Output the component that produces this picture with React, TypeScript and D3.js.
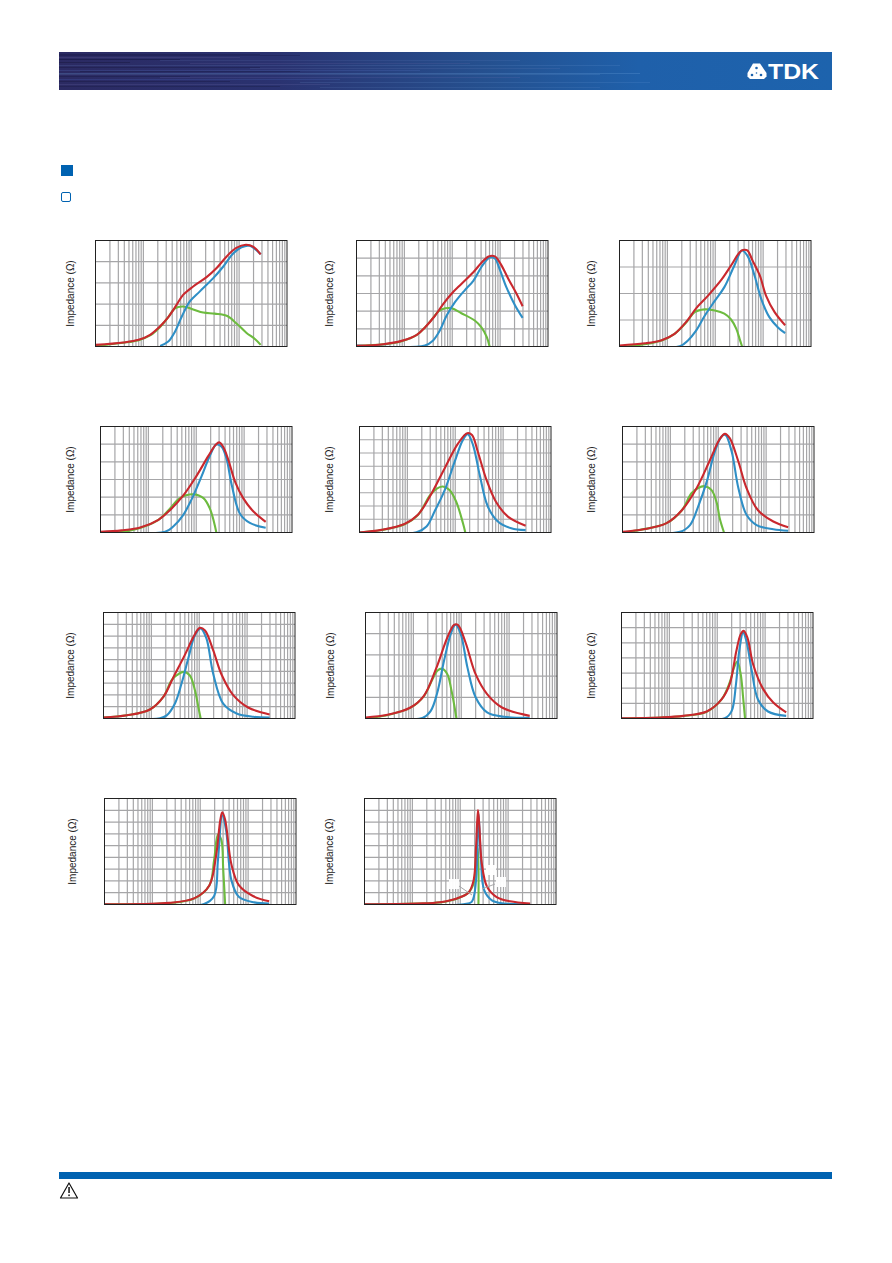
import React from "react";
import * as d3 from "d3";

type Pt = [number, number];

// Each curve: [log10(frequency / 1 MHz), impedance as % of the chart's full scale]
const redA: Pt[] = [[0,1.5],[.58,3.8],[.9,6.3],[1.14,11],[1.35,19],[1.52,27.7],[1.69,39],[1.83,48.7],[2.04,56.6],[2.32,65.4],[2.53,74],[2.74,85],[2.94,93],[3.14,96],[3.29,94.3],[3.45,87]];
const blueA: Pt[] = [[1.35,.6],[1.52,4.7],[1.66,14],[1.8,28],[1.97,42.5],[2.18,52],[2.46,64.5],[2.67,75.5],[2.88,88],[3.05,93.7],[3.22,95],[3.45,87]];
const greenA: Pt[] = [[0,.5],[.58,3.5],[.9,6],[1.14,10.5],[1.35,18.5],[1.52,27.7],[1.66,36],[1.83,37.7],[2.04,35],[2.25,32],[2.49,31],[2.74,29],[2.94,22],[3.15,13],[3.33,7],[3.45,1.5]];

const redB: Pt[] = [[0,.6],[.56,2.2],[.94,5.3],[1.26,11],[1.43,18],[1.64,29],[1.81,40],[1.99,50],[2.19,59],[2.44,70],[2.61,79],[2.76,85],[2.89,85],[3.01,78],[3.17,64],[3.34,50],[3.47,38]];
const blueB: Pt[] = [[0,1],[1.43,1],[1.6,5.7],[1.74,15],[1.88,29],[2.06,42],[2.26,53],[2.44,62],[2.61,75],[2.78,84],[2.89,83],[2.99,73],[3.13,56],[3.31,39],[3.47,27]];
const greenB: Pt[] = [[0,.6],[.56,2],[.94,5],[1.26,11],[1.43,18],[1.6,27],[1.71,33],[1.85,36],[1.99,36],[2.19,31.4],[2.47,24.5],[2.61,18],[2.72,9],[2.78,0]];

const redC: Pt[] = [[0,1],[.53,3],[.88,6],[1.15,12],[1.4,23.6],[1.6,36],[1.85,48],[2.13,63],[2.33,76.4],[2.51,89],[2.58,91],[2.67,90.6],[2.78,81],[2.93,67],[3.06,48],[3.24,32.4],[3.46,20]];
const blueC: Pt[] = [[0,0],[1.26,.3],[1.43,5.7],[1.6,15],[1.78,29],[1.99,43],[2.19,56],[2.4,76.4],[2.56,90.6],[2.68,85],[2.82,67],[2.96,45],[3.13,27.7],[3.31,18],[3.46,12.6]];
const greenC: Pt[] = [[0,0],[.35,1],[.88,5.7],[1.15,12],[1.4,23],[1.57,32.4],[1.78,35],[1.99,34],[2.19,31],[2.33,25.5],[2.44,16.7],[2.51,7],[2.56,0]];

const redD: Pt[] = [[0,.6],[.44,2],[.83,4.7],[1.21,12],[1.45,21],[1.73,35],[2,53],[2.25,72],[2.41,83],[2.48,85],[2.56,81],[2.67,68.6],[2.81,48],[2.98,32.4],[3.19,20],[3.45,10]];
const blueD: Pt[] = [[0,0],[1.35,.6],[1.52,5.7],[1.73,16.7],[1.9,31],[2.11,53],[2.28,72],[2.42,83],[2.53,81],[2.63,70],[2.74,45],[2.91,18],[3.12,9],[3.45,4.4]];
const greenD: Pt[] = [[.34,0],[.69,2.5],[1.21,12],[1.42,21],[1.66,32.4],[1.94,36],[2.15,32.4],[2.28,23],[2.37,10],[2.42,0]];

const redE: Pt[] = [[0,0],[.46,2.5],[.94,8],[1.22,16.7],[1.47,34],[1.78,60.7],[2.06,84],[2.25,93.7],[2.35,92],[2.47,76.4],[2.65,50],[2.85,29],[3.1,15],[3.47,6.3]];
const blueE: Pt[] = [[0,0],[1.19,.3],[1.4,5.7],[1.57,20],[1.78,40],[1.99,67],[2.16,87.4],[2.26,92.8],[2.37,82.7],[2.51,54.4],[2.68,24.5],[2.89,10.4],[3.17,4],[3.47,2.2]];
const greenE: Pt[] = [[0,0],[.46,2.3],[.94,7.8],[1.22,16.5],[1.47,35],[1.6,41],[1.74,43.4],[1.88,40],[2.02,29],[2.16,9],[2.21,0]];

const redF: Pt[] = [[0,.6],[.44,3],[.92,8.8],[1.24,21],[1.55,42],[1.83,68.6],[2.03,88],[2.14,93],[2.24,89],[2.42,67],[2.59,42],[2.83,21],[3.15,10.4],[3.46,5]];
const blueF: Pt[] = [[0,0],[1.2,.6],[1.41,7],[1.58,24.5],[1.76,48],[1.93,76.4],[2.07,90.6],[2.15,92],[2.28,76.4],[2.42,42],[2.59,16.7],[2.8,7],[3.15,3],[3.46,1.6]];
const greenF: Pt[] = [[0,0],[.37,2.5],[.92,8.8],[1.24,21],[1.44,37],[1.58,42],[1.71,43.7],[1.86,40],[1.97,27.7],[2.03,13.5],[2.12,0]];

const redG: Pt[] = [[0,1],[.49,3],[.97,8.5],[1.25,20.4],[1.46,39],[1.7,60],[1.88,77],[2.01,85.5],[2.12,83],[2.29,64.5],[2.47,41],[2.71,22],[3.02,10.4],[3.47,3.8]];
const blueG: Pt[] = [[0,0],[1.18,.3],[1.32,3],[1.49,14],[1.63,33],[1.77,56.6],[1.91,78.6],[2.03,85],[2.15,75.5],[2.29,42.5],[2.5,14],[2.78,4.7],[3.13,1.6],[3.47,1]];
const greenG: Pt[] = [[0,1],[.49,3],[.97,8.5],[1.25,20.4],[1.42,36],[1.53,40.8],[1.67,44],[1.8,40.8],[1.91,26.7],[1.98,11],[2.03,0]];

const redH: Pt[] = [[0,1],[.46,3.5],[.94,10.4],[1.22,21.4],[1.47,46.5],[1.71,76.4],[1.85,88.4],[1.93,88.4],[2.09,71.7],[2.3,41.8],[2.54,23],[2.85,10.4],[3.43,2.5]];
const blueH: Pt[] = [[0,0],[1.19,.6],[1.36,7],[1.5,24.5],[1.64,54.4],[1.78,79.6],[1.88,88.4],[1.99,79.6],[2.13,48],[2.3,20],[2.54,5.7],[2.89,1.6],[3.43,.6]];
const greenH: Pt[] = [[0,0],[.39,2.5],[.94,10.2],[1.22,21.2],[1.4,37],[1.5,45],[1.6,47],[1.71,41.8],[1.79,27.7],[1.85,13.5],[1.9,0]];

const redI: Pt[] = [[0,.3],[.81,1],[1.29,2.5],[1.78,6.6],[2.09,18],[2.26,32.4],[2.4,64],[2.49,79.6],[2.55,82.7],[2.63,76.4],[2.75,51],[2.96,27.7],[3.17,15],[3.44,5.7]];
const blueI: Pt[] = [[0,0],[2.16,.3],[2.3,7],[2.39,32],[2.46,64],[2.54,81],[2.61,73],[2.72,45],[2.85,18],[3.06,6.6],[3.44,2.5]];
const greenI: Pt[] = [[0,0],[.81,.8],[1.29,2.3],[1.78,6.4],[2.09,18],[2.26,34],[2.35,48],[2.42,53.8],[2.49,41.8],[2.54,20],[2.58,0]];

const redJ: Pt[] = [[0,.3],[1.35,1.5],[1.88,6],[2.19,18],[2.33,46],[2.42,80],[2.46,87],[2.52,80],[2.65,38],[2.81,18],[3.1,8],[3.44,3]];
const blueJ: Pt[] = [[0,0],[2.08,.5],[2.29,8],[2.37,42],[2.46,84],[2.54,70],[2.65,23],[2.81,7],[3.13,2],[3.44,1]];
const greenJ: Pt[] = [[0,.2],[1.35,1.3],[1.88,5.8],[2.19,18],[2.29,42],[2.37,66],[2.44,61],[2.48,33],[2.52,0]];

const redK: Pt[] = [[0,.3],[1.1,1],[1.58,2.2],[1.93,5.7],[2.17,11],[2.28,23],[2.33,54],[2.37,89],[2.4,73],[2.45,38.7],[2.56,16.7],[2.76,7],[3.04,3],[3.46,1]];
const blueK: Pt[] = [[0,0],[2.07,.3],[2.24,2.5],[2.33,23],[2.38,86],[2.43,45],[2.5,13.5],[2.66,4],[2.9,1],[3.46,.3]];
const greenK: Pt[] = [[0,.2],[1.1,.8],[1.58,2],[1.93,5.5],[2.17,11],[2.28,20],[2.33,42],[2.37,53],[2.38,0]];

// Layout of the page, separate from the values
const chartLefts = [95.5, 356.5, 619.5, 100.5, 359.5, 622.5, 103.5, 365.5, 621.5, 104.5, 364.5];
const chartTops = [240.5, 240.5, 240.5, 426.5, 426.5, 426.5, 612.5, 612.5, 612.5, 798.5, 798.5];
const labelXs = [71, 330, 592, 71, 330, 592, 71, 331, 592, 73, 330];
const divisions = [5, 6, 4, 6, 8, 6, 9, 5, 7, 9, 9];
const reds = [redA, redB, redC, redD, redE, redF, redG, redH, redI, redJ, redK];
const blues = [blueA, blueB, blueC, blueD, blueE, blueF, blueG, blueH, blueI, blueJ, blueK];
const greens = [greenA, greenB, greenC, greenD, greenE, greenF, greenG, greenH, greenI, greenJ, greenK];

const CHART_W = 191.5;
const CHART_H = 106;
const GRID = "#a6a6a8";
const RED = "#c9282e";
const BLUE = "#2f8fc6";
const GREEN = "#6dbb3f";
const BRAND = "#0062b1";

const minorTicks = d3.range(0, 4).flatMap((dec) =>
  d3.range(2, 11).map((m) => m * 10 ** dec)
);

// Rows of the banner's streaks: [row, from, to, opacity, colour]
const streaks: [number, number, number, number, string][] = [
  [54, 59, 260, .2, "#000020"], [55, 59, 300, .18, "#000020"], [57, 59, 240, .16, "#8a7fb0"], [59, 59, 180, .3, "#000020"],
  [60, 160, 520, .14, "#6f8fd0"], [62, 59, 130, .32, "#10102a"], [63, 190, 470, .16, "#7a6fb0"],
  [65, 59, 620, .14, "#7fa8e0"], [67, 59, 260, .25, "#0c0c28"], [68, 250, 560, .14, "#8090c8"],
  [70, 59, 420, .2, "#5f7fd0"], [71, 80, 300, .24, "#0c0c28"], [73, 59, 640, .26, "#6fa8e0"],
  [74, 59, 600, .14, "#88b8e8"], [76, 59, 190, .26, "#101030"], [77, 160, 520, .16, "#7f78b8"],
  [79, 59, 340, .22, "#4f6fc8"], [81, 59, 230, .28, "#101030"], [82, 300, 650, .14, "#80a8e0"],
  [84, 59, 330, .18, "#7f78b8"], [86, 59, 280, .24, "#101030"], [87, 320, 600, .12, "#7fa8e0"],
];

function Chart({ index }: { index: number }) {
  const left = chartLefts[index];
  const top = chartTops[index];
  const x = d3.scaleLog().domain([1, 10000]).range([left, left + CHART_W]);
  const y = d3.scaleLinear().domain([0, 100]).range([top + CHART_H, top]);
  const line = d3
    .line<Pt>()
    .x((d) => x(10 ** d[0]))
    .y((d) => y(d[1]))
    .curve(d3.curveCatmullRom.alpha(0.5));
  const hLines = d3.range(1, divisions[index]).map((i) => (i * 100) / divisions[index]);
  const curve = { fill: "none", strokeWidth: 2.1, strokeLinejoin: "round" as const };
  const clipId = `plot-${index}`;
  return (
    <g>
      <clipPath id={clipId}>
        <rect x={left - 1} y={top} width={CHART_W + 1} height={CHART_H + 0.5} />
      </clipPath>
      {minorTicks.slice(0, -1).map((t) => (
        <line key={t} x1={x(t)} x2={x(t)} y1={top} y2={top + CHART_H} stroke={GRID} strokeWidth={1.2} />
      ))}
      {hLines.map((v) => (
        <line key={v} x1={left} x2={left + CHART_W} y1={y(v)} y2={y(v)} stroke={GRID} strokeWidth={1.2} />
      ))}
      <g clipPath={`url(#${clipId})`}>
        <path d={line(greens[index]) ?? ""} stroke={GREEN} {...curve} />
        <path d={line(blues[index]) ?? ""} stroke={BLUE} {...curve} />
        <path d={line(reds[index]) ?? ""} stroke={RED} {...curve} />
      </g>
      <rect x={left} y={top} width={CHART_W} height={CHART_H} fill="none" stroke="#222" strokeWidth={1} />
      <text
        transform={`translate(${labelXs[index] + 3},${top + 53}) rotate(-90)`}
        textAnchor="middle"
        fontFamily="Liberation Sans, Arial, sans-serif"
        fontSize={10}
        fill="#222"
      >
        Impedance (Ω)
      </text>
    </g>
  );
}

export default function App() {
  return (
    <svg
      width={892}
      height={1263}
      viewBox="0 0 892 1263"
      style={{ position: "absolute", left: 0, top: 0, background: "#fff" }}
    >
      <defs>
        <linearGradient id="banner" x1="0" x2="1" y1="0" y2="0">
          <stop offset="0" stopColor="#2b2a62" />
          <stop offset="0.28" stopColor="#2a3270" />
          <stop offset="0.55" stopColor="#25508f" />
          <stop offset="0.75" stopColor="#1f60aa" />
          <stop offset="1" stopColor="#1d63ad" />
        </linearGradient>
      </defs>
      <rect x={59} y={52} width={773} height={38} fill="url(#banner)" />
      {streaks.map(([row, a, b, op, c], i) => (
        <rect key={i} x={a} y={row} width={b - a} height={1} fill={c} opacity={op} />
      ))}
      {/* TDK logo */}
      <path d="M753,63.5 L760,63.5 L766.5,73 L766.5,76.5 L764,79 L750,79 L747.5,76.5 L747.5,73 Z" fill="#fff" />
      <circle cx={756.5} cy={68} r={1.3} fill="#1d63ad" />
      <circle cx={752} cy={75} r={1.3} fill="#1d63ad" />
      <circle cx={761} cy={75} r={1.3} fill="#1d63ad" />
      <circle cx={756.5} cy={73} r={0.8} fill="#1d63ad" />
      <text
        x={768}
        y={79}
        fontFamily="Liberation Sans, Arial, sans-serif"
        fontWeight="bold"
        fontSize={22}
        fill="#fff"
        textLength={51}
        lengthAdjust="spacingAndGlyphs"
      >
        TDK
      </text>

      <rect x={61} y={165} width={12} height={11} fill={BRAND} />
      <rect x={61.5} y={192.5} width={9} height={9} rx={1.5} fill="#fff" stroke={BRAND} strokeWidth={1} />

      {chartLefts.map((_, i) => (
        <Chart key={i} index={i} />
      ))}

      {/* leader remnants on the last chart */}
      <g>
        <rect x={449} y={879} width={10} height={10} fill="#fff" opacity={0.95} />
        <rect x={486} y={865} width={10} height={10} fill="#fff" opacity={0.95} />
        <rect x={496} y={877} width={10} height={10} fill="#fff" opacity={0.95} />
        <line x1={459} y1={886} x2={472} y2={895} stroke={GRID} />
        <line x1={482} y1={889} x2={495} y2={884} stroke={GRID} />
      </g>

      <rect x={59} y={1172} width={773} height={7} fill={BRAND} />
      <path d="M69,1183 L77.5,1198 L60.5,1198 Z" fill="#fff" stroke="#111" strokeWidth={1.2} strokeLinejoin="round" />
      <rect x={68.3} y={1187} width={1.5} height={6} fill="#111" />
      <rect x={68.3} y={1194.5} width={1.5} height={1.6} fill="#111" />
    </svg>
  );
}
